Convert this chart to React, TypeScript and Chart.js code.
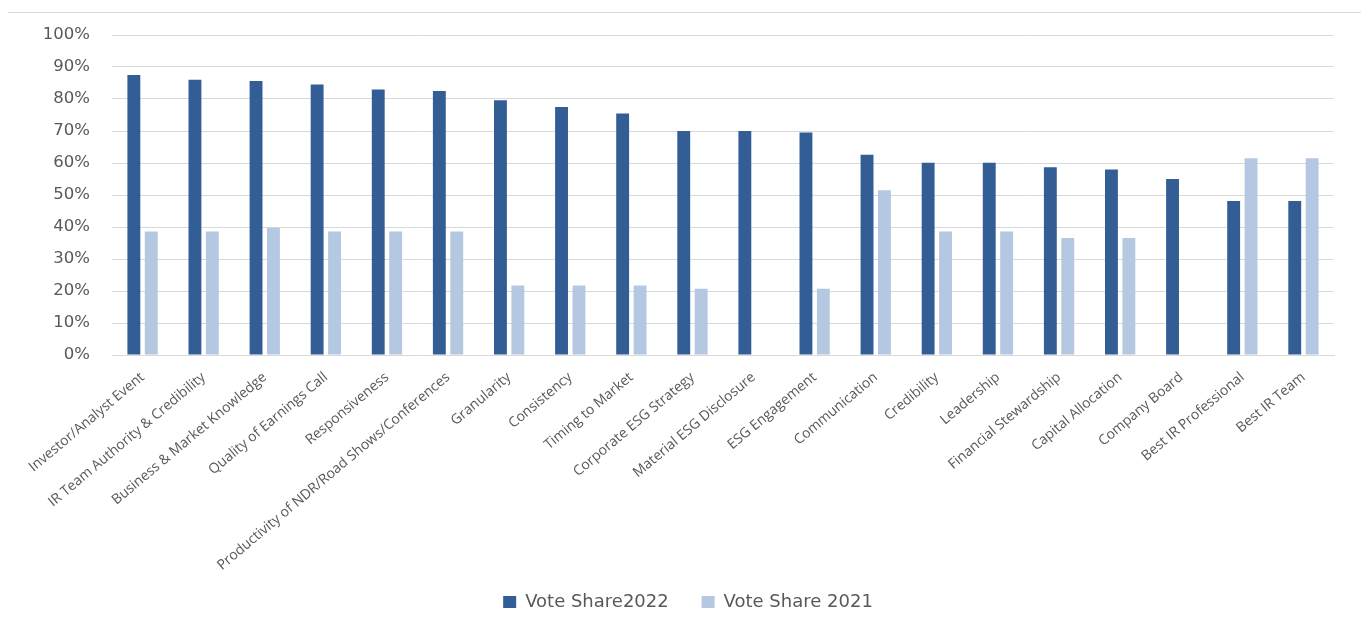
import React, { useEffect, useRef } from "react";
import { Chart, registerables } from "chart.js";

Chart.register(...registerables);

const categories: string[] = [
  "Investor/Analyst Event",
  "IR Team Authority & Credibility",
  "Business & Market Knowledge",
  "Quality of Earnings Call",
  "Responsiveness",
  "Productivity of NDR/Road Shows/Conferences",
  "Granularity",
  "Consistency",
  "Timing to Market",
  "Corporate ESG Strategy",
  "Material ESG Disclosure",
  "ESG Engagement",
  "Communication",
  "Credibility",
  "Leadership",
  "Financial Stewardship",
  "Capital Allocation",
  "Company Board",
  "Best IR Professional",
  "Best IR Team",
];

const voteShare2022: number[] = [
  87.5, 86, 85.6, 84.5, 83, 82.5, 79.6, 77.5, 75.5, 70, 70, 69.5, 62.6, 60.1, 60.1, 58.7, 58, 55, 48.1, 48.1,
];

const voteShare2021: (number | null)[] = [
  38.6, 38.6, 39.8, 38.6, 38.6, 38.6, 21.7, 21.7, 21.7, 20.7, null, 20.7, 51.5, 38.6, 38.6, 36.6, 36.6, null, 61.5, 61.5,
];

const seriesNames: string[] = ["Vote Share2022", "Vote Share 2021"];

const LABEL_FONT = "'Open Sans', 'Liberation Sans', sans-serif";
const WIDE_FONT = "'DejaVu Sans', sans-serif";

export default function App() {
  const canvasRef = useRef<HTMLCanvasElement | null>(null);

  useEffect(() => {
    if (!canvasRef.current) return;
    const chart = new Chart(canvasRef.current, {
      type: "bar",
      data: {
        labels: categories,
        datasets: [
          {
            label: seriesNames[0],
            data: voteShare2022,
            backgroundColor: "#335e95",
            categoryPercentage: 0.57,
            barPercentage: 0.74,
          },
          {
            label: seriesNames[1],
            data: voteShare2021,
            backgroundColor: "#b5c8e2",
            categoryPercentage: 0.57,
            barPercentage: 0.74,
          },
        ],
      },
      options: {
        animation: false,
        responsive: true,
        maintainAspectRatio: false,
        layout: { padding: { top: 22, right: 0, bottom: 10, left: 8 } },
        plugins: {
          legend: {
            position: "bottom",
            labels: {
              boxWidth: 13,
              boxHeight: 12,
              color: "#595959",
              font: { family: WIDE_FONT, size: 18 },
              padding: 10,
              generateLabels: (c: any) => {
                const items = Chart.defaults.plugins.legend.labels.generateLabels(c);
                if (items.length > 0) items[0].text = items[0].text + "    ";
                return items;
              },
            },
          },
          tooltip: { enabled: false },
        },
        scales: {
          x: {
            grid: { display: false },
            border: { display: true, color: "#d9d9d9" },
            ticks: {
              color: "#595959",
              font: { family: LABEL_FONT, size: 14 },
              minRotation: 40,
              maxRotation: 40,
              autoSkip: false,
              padding: 6,
            },
            afterFit: (scale: any) => {
              scale.height = 228;
            },
          },
          y: {
            min: 0,
            max: 100,
            grid: { color: "#d9d9d9", drawTicks: false },
            border: { display: false },
            ticks: {
              stepSize: 10,
              color: "#595959",
              font: { family: WIDE_FONT, size: 16.5 },
              padding: 22,
              callback: (v: any) => v + "%",
            },
            afterFit: (scale: any) => {
              scale.width = 98;
              scale.paddingTop = 0;
              scale.paddingBottom = 0;
            },
          },
          yRight: {
            position: "right",
            display: true,
            grid: { display: false, drawTicks: false },
            border: { display: false },
            ticks: { display: false },
            afterFit: (scale: any) => {
              scale.width = 28;
              scale.paddingTop = 0;
              scale.paddingBottom = 0;
            },
          },
        },
      },
    });
    return () => chart.destroy();
  }, []);

  return (
    <div
      style={{
        marginLeft: -3,
        marginTop: 4,
        width: 1358,
        height: 620,
        border: "1px solid #d9d9d9",
        boxSizing: "border-box",
        background: "#fff",
      }}
    >
      <div style={{ position: "relative", width: 1356, height: 618 }}>
        <canvas ref={canvasRef} />
      </div>
    </div>
  );
}
